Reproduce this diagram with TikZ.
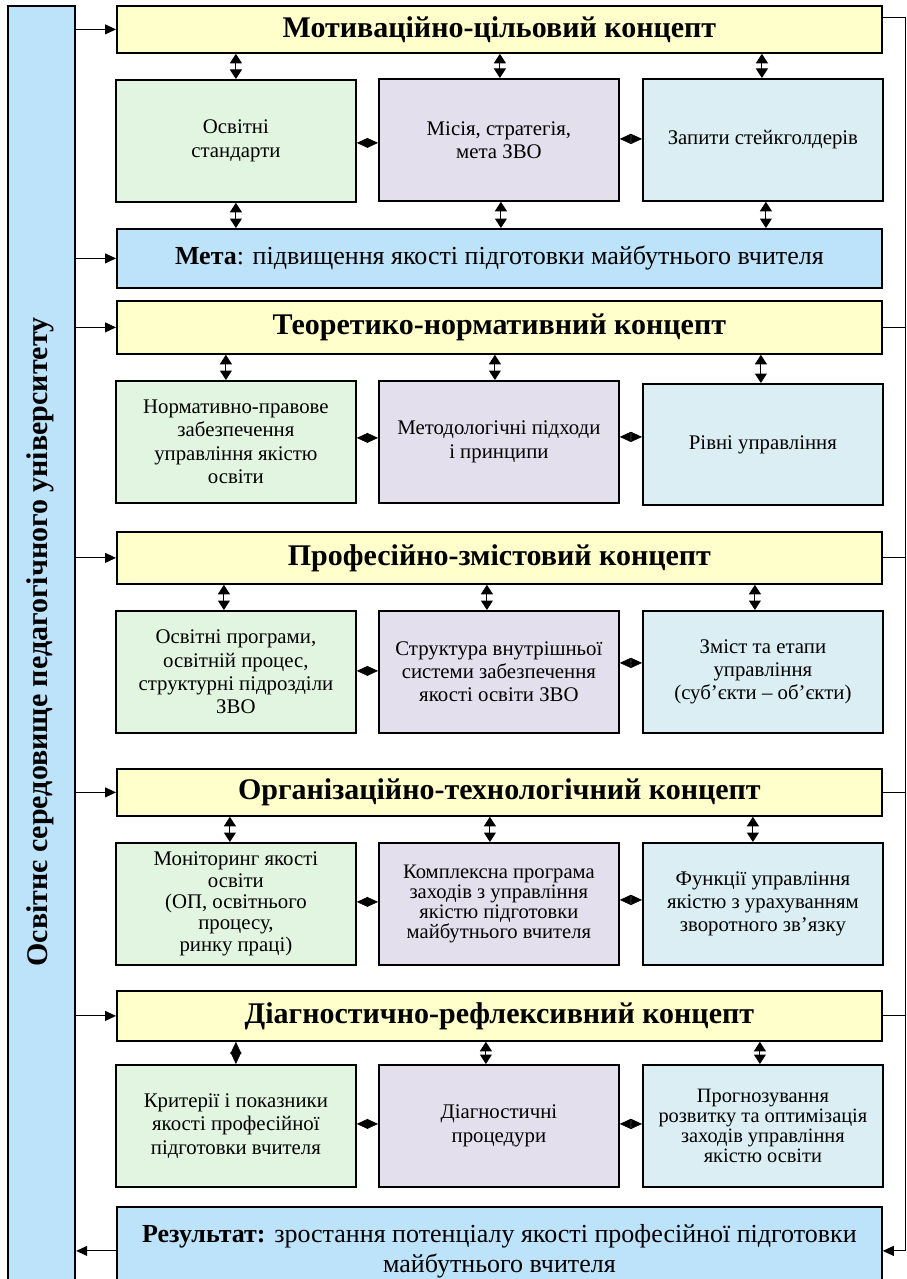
\documentclass[tikz,border=0pt]{standalone}
\usepackage{fontspec}
\setmainfont{Liberation Serif}
\usetikzlibrary{arrows.meta}
\definecolor{hyel}{HTML}{FFFFCC}
\definecolor{bgreen}{HTML}{E1F5E0}
\definecolor{bpurp}{HTML}{E4DFEC}
\definecolor{bblue}{HTML}{DAEEF3}
\definecolor{sky}{HTML}{BDE3FB}
\begin{document}
\begin{tikzpicture}[x=1pt,y=-1pt,
  header/.style={draw, line width=1.8pt, fill=hyel, minimum width=765pt, anchor=north west, inner sep=0pt, font=\bfseries\fontsize{30}{34}\selectfont},
  wide/.style={draw, line width=1.8pt, fill=sky, minimum width=765pt, anchor=north west, inner sep=0pt, align=center, font=\fontsize{26}{30}\selectfont},
  cbox/.style={draw, line width=1.8pt, minimum width=240pt, minimum height=122pt, anchor=north west, inner sep=0pt, align=center, font=\fontsize{20.8}{23.3}\selectfont},
  gbox/.style={cbox, fill=bgreen},
  pbox/.style={cbox, fill=bpurp},
  bbox/.style={cbox, fill=bblue},
  darr/.style={{Triangle[width=12pt,length=9.5pt]}-{Triangle[width=12pt,length=9.5pt]}, line width=1pt},
  ddia/.style={{Triangle[width=11pt,length=12pt]}-{Triangle[width=11pt,length=12pt]}, line width=0.5pt},
  hdia/.style={{Triangle[width=10pt,length=11pt]}-{Triangle[width=10pt,length=11pt]}, line width=0.5pt},
  inarr/.style={-{Triangle[width=10pt,length=11pt]}, line width=1pt},
  fline/.style={line width=1pt}]
\useasboundingbox (0,0) rectangle (906,1279);
\clip (0,0) rectangle (906,1279);
\fill[white] (0,0) rectangle (906,1279);

% left box
\node[draw, line width=2.2pt, fill=sky, minimum width=67pt, minimum height=1290pt, anchor=north west, inner sep=0pt] (env) at (7,5) {};
\node[rotate=90, font=\bfseries\fontsize{30}{34}\selectfont] (envt) at (40.5,642) {Освітнє середовище педагогічного університету};
\coordinate (rl) at (905,0);

% headers and wide boxes
\node[header, minimum height=47pt] (h1) at (116,5) {Мотиваційно-цільовий концепт};
\node[wide, minimum height=59pt] (meta) at (116,228) {\textbf{Мета}: підвищення якості підготовки майбутнього вчителя};
\node[header, minimum height=53pt] (h2) at (116,300) {Теоретико-нормативний концепт};
\node[header, minimum height=52pt] (h3) at (116,531) {Професійно-змістовий концепт};
\node[header, minimum height=47pt] (h4) at (116,768) {Організаційно-технологічний концепт};
\node[header, minimum height=50pt] (h5) at (116,990) {Діагностично-рефлексивний концепт};
\node[wide, minimum height=88pt] (res) at (116,1206) {\textbf{Результат:} зростання потенціалу якості професійної підготовки\\майбутнього вчителя};

% row 1
\node[gbox] (g1) at (115,79) {Освітні\\стандарти};
\node[pbox] (p1) at (378,78) {Місія, стратегія,\\мета ЗВО};
\node[bbox] (b1) at (642,78) {Запити стейкголдерів};
% row 2
\node[gbox] (g2) at (115,380) {Нормативно-правове\\забезпечення\\управління якістю\\освіти};
\node[pbox] (p2) at (378,380) {Методологічні підходи\\і принципи};
\node[bbox, minimum height=121pt] (b2) at (642,383) {Рівні управління};
% row 3
\node[gbox] (g3) at (115,610) {Освітні програми,\\освітній процес,\\структурні підрозділи\\ЗВО};
\node[pbox] (p3) at (378,610) {Структура внутрішньої\\системи забезпечення\\якості освіти ЗВО};
\node[bbox] (b3) at (642,610) {Зміст та етапи\\управління\\(суб’єкти – об’єкти)};
% row 4
\node[gbox, font=\fontsize{20.8}{21.3}\selectfont] (g4) at (115,842) {Моніторинг якості\\освіти\\(ОП, освітнього\\процесу,\\ринку праці)};
\node[pbox, font=\fontsize{20.6}{20.2}\selectfont] (p4) at (378,842) {Комплексна програма\\заходів з управління\\якістю підготовки\\майбутнього вчителя};
\node[bbox] (b4) at (642,842) {Функції управління\\якістю з урахуванням\\зворотного зв’язку};
% row 5
\node[gbox] (g5) at (115,1064) {Критерії і показники\\якості професійної\\підготовки вчителя};
\node[pbox] (p5) at (378,1064) {Діагностичні\\процедури};
\node[bbox, font=\fontsize{20.4}{20.3}\selectfont] (b5) at (642,1064) {Прогнозування\\розвитку та оптимізація\\заходів управління\\якістю освіти};

% vertical double arrows
\draw[darr] (h1.south -| g1.north) -- (g1.north);
\draw[darr] ([xshift=1pt]h1.south -| p1.north) -- ([xshift=1pt]p1.north);
\draw[darr] ([xshift=-1pt]h1.south -| b1.north) -- ([xshift=-1pt]b1.north);
\draw[darr] (g1.south) -- (meta.north -| g1.south);
\draw[darr] ([xshift=2pt]p1.south) -- ([xshift=2pt]meta.north -| p1.south);
\draw[darr] ([xshift=3pt]b1.south) -- ([xshift=3pt]meta.north -| b1.south);

\draw[darr] ([xshift=-10pt]h2.south -| g2.north) -- ([xshift=-10pt]g2.north);
\draw[darr] ([xshift=-4pt]h2.south -| p2.north) -- ([xshift=-4pt]p2.north);
\draw[darr] ([xshift=-2pt]h2.south -| b2.north) -- ([xshift=-2pt]b2.north);

\draw[darr] ([xshift=-12pt]h3.south -| g3.north) -- ([xshift=-12pt]g3.north);
\draw[darr] ([xshift=-12pt]h3.south -| p3.north) -- ([xshift=-12pt]p3.north);
\draw[darr] ([xshift=-8pt]h3.south -| b3.north) -- ([xshift=-8pt]b3.north);

\draw[darr] ([xshift=-6pt]h4.south -| g4.north) -- ([xshift=-6pt]g4.north);
\draw[darr] ([xshift=-9pt]h4.south -| p4.north) -- ([xshift=-9pt]p4.north);
\draw[darr] ([xshift=-10pt]h4.south -| b4.north) -- ([xshift=-10pt]b4.north);

\draw[ddia] (h5.south -| g5.north) -- (g5.north);
\draw[darr] ([xshift=-13pt]h5.south -| p5.north) -- ([xshift=-13pt]p5.north);
\draw[darr] ([xshift=-3pt]h5.south -| b5.north) -- ([xshift=-3pt]b5.north);

% horizontal diamonds
\draw[hdia] ([yshift=-2pt]g1.east) -- ([yshift=-2pt]g1.east -| p1.west);
\draw[hdia] ([yshift=1pt]p1.east) -- ([yshift=1pt]p1.east -| b1.west);
\draw[hdia] ([yshift=4pt]g2.east) -- ([yshift=4pt]g2.east -| p2.west);
\draw[hdia] ([yshift=5pt]p2.east) -- ([yshift=5pt]p2.east -| b2.west);
\draw[hdia] ([yshift=1pt]g3.east) -- ([yshift=1pt]g3.east -| p3.west);
\draw[hdia] ([yshift=9pt]p3.east) -- ([yshift=9pt]p3.east -| b3.west);
\draw[hdia] ([yshift=2pt]g4.east) -- ([yshift=2pt]g4.east -| p4.west);
\draw[hdia] ([yshift=4pt]p4.east) -- ([yshift=4pt]p4.east -| b4.west);
\draw[hdia] ([yshift=2pt]g5.east) -- ([yshift=2pt]g5.east -| p5.west);
\draw[hdia] ([yshift=2pt]p5.east) -- ([yshift=2pt]p5.east -| b5.west);

% left input arrows
\draw[inarr] (h1.west -| env.east) -- (h1.west);
\draw[inarr] (meta.west -| env.east) -- (meta.west);
\draw[inarr] (h2.west -| env.east) -- (h2.west);
\draw[inarr] (h3.west -| env.east) -- (h3.west);
\draw[inarr] (h4.west -| env.east) -- (h4.west);
\draw[inarr] (h5.west -| env.east) -- (h5.west);
\draw[inarr] (res.west) -- (res.west -| env.east);

% right feedback line
\draw[fline] ([yshift=12pt]h1.east) -- ([yshift=12pt]h1.east -| rl) -- (res.east -| rl);
\draw[inarr] (res.east -| rl) -- (res.east);
\draw[fline] (h2.east) -- (h2.east -| rl);
\draw[fline] (h3.east) -- (h3.east -| rl);
\draw[fline] (h4.east) -- (h4.east -| rl);
\draw[fline] (h5.east) -- (h5.east -| rl);
\end{tikzpicture}
\end{document}
